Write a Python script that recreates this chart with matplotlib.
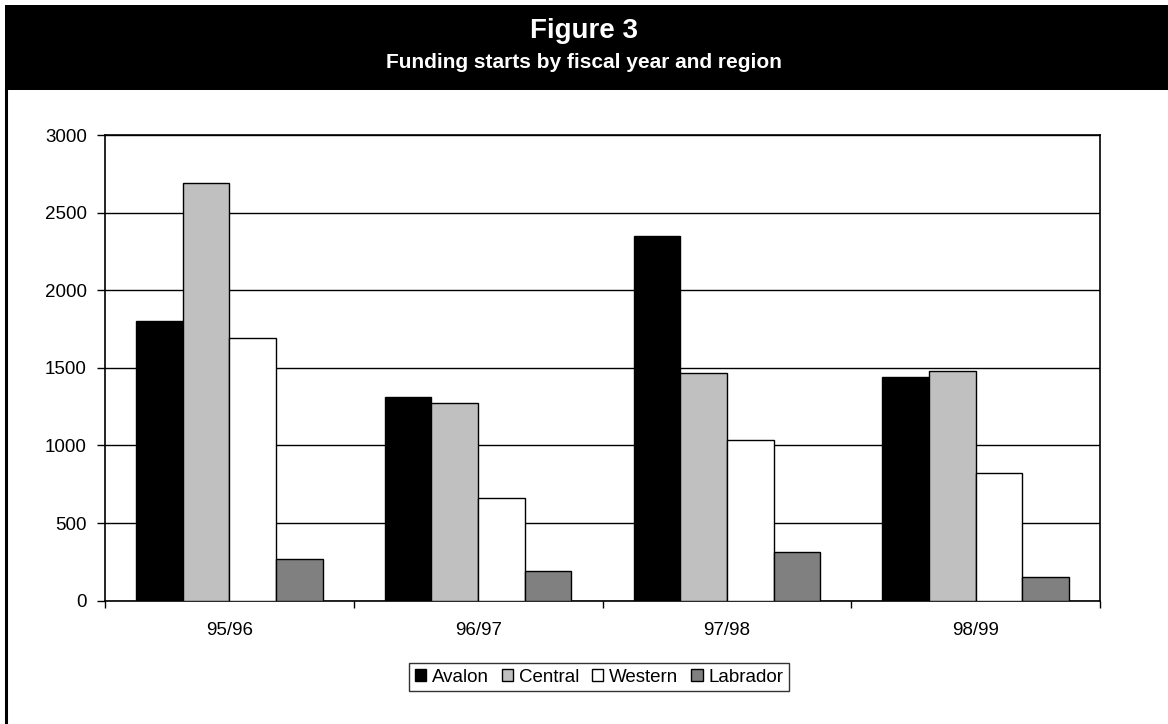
import numpy as np
import matplotlib
matplotlib.use('Agg')
import matplotlib.pyplot as plt
from matplotlib.patches import Rectangle
from matplotlib.lines import Line2D

plt.rcParams['font.family'] = ['Liberation Sans', 'DejaVu Sans']

# data
years = ['95/96', '96/97', '97/98', '98/99']
regions = ['Avalon', 'Central', 'Western', 'Labrador']
avalon = [1800, 1310, 2350, 1440]
central = [2690, 1275, 1470, 1478]
western = [1690, 663, 1035, 820]
labrador = [270, 193, 311, 155]
colors = ['#000000', '#c0c0c0', '#ffffff', '#808080']

W, H = 1168, 724
fig = plt.figure(figsize=(W / 100, H / 100), dpi=100)

# black header band with the titles
fig.patches.append(Rectangle((5 / W, 1 - 90 / H), 1 - 5 / W, 85 / H,
                             transform=fig.transFigure, facecolor='black',
                             edgecolor='none', zorder=0))
fig.text(0.5, 1 - 31 / H, 'Figure 3', color='white', fontsize=20,
         fontweight='bold', ha='center', va='center')
fig.text(0.5, 1 - 62 / H, 'Funding starts by fiscal year and region',
         color='white', fontsize=15, fontweight='bold', ha='center', va='center')
# left frame line below the header
fig.lines.append(Line2D([6 / W, 6 / W], [0, 1 - 90 / H], transform=fig.transFigure,
                        color='black', linewidth=2.2))

ax = fig.add_axes([105 / W, 1 - 600.7 / H, 995 / W, 465.7 / H])

x = np.arange(len(years))
bw = 0.1875
series = [avalon, central, western, labrador]
for i, (name, vals) in enumerate(zip(regions, series)):
    ax.bar(x - 0.375 + bw * (i + 0.5), vals, width=bw, color=colors[i],
           edgecolor='black', linewidth=1.0, label=name, zorder=3)

ax.set_xlim(-0.5, 3.5)
ax.set_ylim(0, 3000)
ax.set_yticks(np.arange(0, 3001, 500))
ax.yaxis.grid(True, color='black', linewidth=1.0, zorder=0)
ax.set_axisbelow(True)
ax.set_xticks(x)
ax.set_xticklabels(years)
ax.set_xticks(np.arange(-0.5, 3.6, 1), minor=True)
ax.tick_params(axis='x', which='major', length=0, pad=15, labelsize=13.5)
ax.tick_params(axis='x', which='minor', length=5, width=1.0, direction='out')
ax.tick_params(axis='y', length=6, width=1.0, pad=7, labelsize=13.5)
for s in ax.spines.values():
    s.set_linewidth(1.2)
    s.set_color('black')

handles, labels = ax.get_legend_handles_labels()
leg = fig.legend(handles, labels, loc='center', ncol=4,
                 bbox_to_anchor=(599 / W, 1 - 677 / H), fontsize=13.5,
                 frameon=True, fancybox=False, edgecolor='black',
                 handlelength=0.6, handleheight=0.6, handletextpad=0.3,
                 columnspacing=0.7, borderpad=0.3, borderaxespad=0)
leg.get_frame().set_linewidth(1.0)

fig.savefig('out.png', dpi=100, facecolor='white')
